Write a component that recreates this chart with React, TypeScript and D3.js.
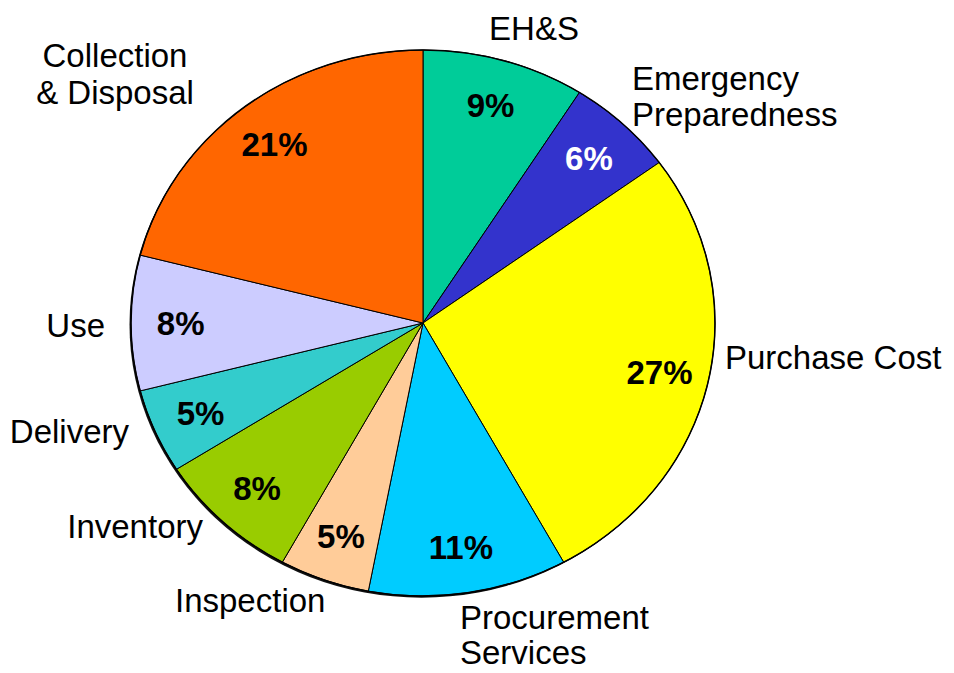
import React from "react";
import * as d3 from "d3";

// slice order, clockwise from 12 o'clock
const categories = [
  "EH&S",
  "Emergency Preparedness",
  "Purchase Cost",
  "Procurement Services",
  "Inspection",
  "Inventory",
  "Delivery",
  "Use",
  "Collection & Disposal",
];
const shares = [9, 6, 27, 11, 5, 8, 5, 8, 21];
const sliceColors = [
  "#00CC99",
  "#3333CC",
  "#FFFF00",
  "#00CCFF",
  "#FFCC99",
  "#99CC00",
  "#33CCCC",
  "#CCCCFF",
  "#FF6600",
];
const labelLines = [
  ["EH&S"],
  ["Emergency", "Preparedness"],
  ["Purchase Cost"],
  ["Procurement", "Services"],
  ["Inspection"],
  ["Inventory"],
  ["Delivery"],
  ["Use"],
  ["Collection", "& Disposal"],
];

// where the category labels sit (x, first baseline, anchor, line gap)
const labelPlacement: [number, number, string, number][] = [
  [534, 40, "middle", 0],
  [632, 90, "start", 36],
  [725, 369, "start", 0],
  [460, 629, "start", 35],
  [175, 612, "start", 0],
  [203, 538, "end", 0],
  [129, 443, "end", 0],
  [105, 337, "end", 0],
  [115, 67, "middle", 37],
];

const W = 954;
const H = 673;
const cx = 423;
const cy = 323;
const R = 292;
const ky = 273 / 292; // pie is squashed vertically
const FONT = "'Liberation Sans', Arial, Helvetica, sans-serif";

const App = () => {
  const pie = d3
    .pie<number>()
    .value((d) => d)
    .sort(null);
  const arcs = pie(shares);
  const arc = d3.arc<d3.PieArcDatum<number>>().innerRadius(0).outerRadius(R);
  const labelArc = d3
    .arc<d3.PieArcDatum<number>>()
    .innerRadius(R * 0.83)
    .outerRadius(R * 0.83);

  return (
    <svg
      width={W}
      height={H}
      style={{ position: "absolute", left: 0, top: 0, background: "#fff" }}
    >
      <g transform={`translate(${cx} ${cy}) scale(1 ${ky})`}>
        <circle cx={-1.5} cy={1.8} r={R} fill="#111" />
        {arcs.map((d, i) => (
          <path
            key={i}
            d={arc(d) || ""}
            fill={sliceColors[i]}
            stroke="#000"
            strokeWidth={1}
            vectorEffect="non-scaling-stroke"
          />
        ))}
        <circle
          r={R}
          fill="none"
          stroke="#000"
          strokeWidth={1.5}
          vectorEffect="non-scaling-stroke"
        />
      </g>

      <g fontFamily={FONT} fontWeight="bold" fontSize={33}>
        {arcs.map((d, i) => {
          const [x, y] = labelArc.centroid(d);
          return (
            <text
              key={i}
              x={cx + x}
              y={cy + y * ky + 12}
              textAnchor="middle"
              fill={i === 1 ? "#fff" : "#000"}
            >
              {`${shares[i]}%`}
            </text>
          );
        })}
      </g>

      <g fontFamily={FONT} fontSize={33} fill="#000">
        {categories.map((c, i) => {
          const [x, y, anchor, gap] = labelPlacement[i];
          return (
            <text key={c} x={x} y={y} textAnchor={anchor}>
              {labelLines[i].map((line, j) => (
                <tspan key={j} x={x} y={y + j * gap}>
                  {line}
                </tspan>
              ))}
            </text>
          );
        })}
      </g>
    </svg>
  );
};

export default App;
